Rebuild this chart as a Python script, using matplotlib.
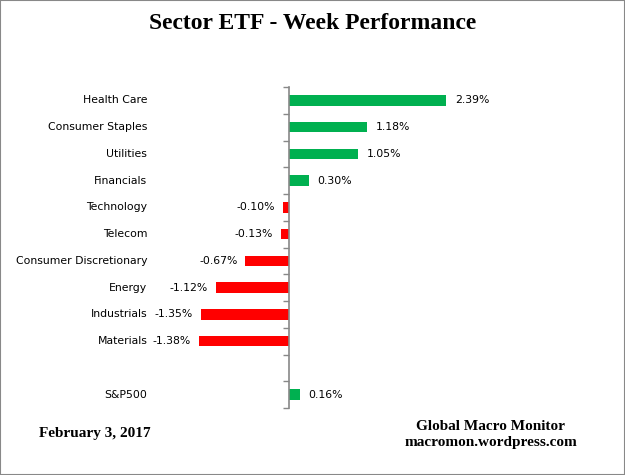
import numpy as np
from matplotlib import pyplot as plt

# weekly sector ETF performance, percent
sectors = ['Health Care', 'Consumer Staples', 'Utilities', 'Financials',
           'Technology', 'Telecom', 'Consumer Discretionary', 'Energy',
           'Industrials', 'Materials', 'S&P500']
changes = [2.39, 1.18, 1.05, 0.30, -0.10, -0.13, -0.67, -1.12, -1.35, -1.38, 0.16]
# S&P500 sits one empty slot below the sectors
slots = list(range(10)) + [11]

green = '#00B050'
red = '#FF0000'
sans = 'DejaVu Sans'
serif = 'Liberation Serif'

fig = plt.figure(figsize=(6.25, 4.75), dpi=100)
fig.patches.append(plt.Rectangle((0, 0), 1, 1, transform=fig.transFigure,
                                 fill=False, edgecolor='#888888', lw=1.5))

ax = fig.add_axes([0.24, 0.141, 0.72, 0.6758])
colors = [green if v >= 0 else red for v in changes]
ax.barh(slots, changes, height=0.39, color=colors)
ax.set_ylim(11.5, -0.5)
ax.set_xlim(-2.123, 4.727)

for s in ['top', 'right', 'bottom']:
    ax.spines[s].set_visible(False)
ax.spines['left'].set_position(('data', 0))
ax.spines['left'].set_color('#888888')
ax.spines['left'].set_linewidth(1.2)
ax.set_xticks([])
ax.set_yticks(np.arange(-0.5, 12, 1))
ax.set_yticklabels([])
ax.tick_params(axis='y', direction='out', length=4, color='#888888', width=1)

# category names at the left edge
for name, y in zip(sectors, slots):
    ax.text(-0.006, y, name, transform=ax.get_yaxis_transform(),
            ha='right', va='center', fontsize=7.8, family=sans)

# value labels beside the bars
for v, y in zip(changes, slots):
    if v >= 0:
        ax.text(v + 0.13, y, f'{v:.2f}%', ha='left', va='center',
                fontsize=7.8, family=sans)
    else:
        ax.text(v - 0.12, y, f'{v:.2f}%', ha='right', va='center',
                fontsize=7.8, family=sans)

fig.text(0.5, 0.951, 'Sector ETF - Week Performance', ha='center', va='center',
         fontsize=17, fontweight='bold', family=serif)
fig.text(0.063, 0.088, 'February 3, 2017', ha='left', va='center',
         fontsize=11, fontweight='bold', family=serif)
fig.text(0.785, 0.085, 'Global Macro Monitor\nmacromon.wordpress.com',
         ha='center', va='center', fontsize=11, fontweight='bold',
         family=serif, linespacing=1.3)

fig.savefig('out.png', dpi=100)
